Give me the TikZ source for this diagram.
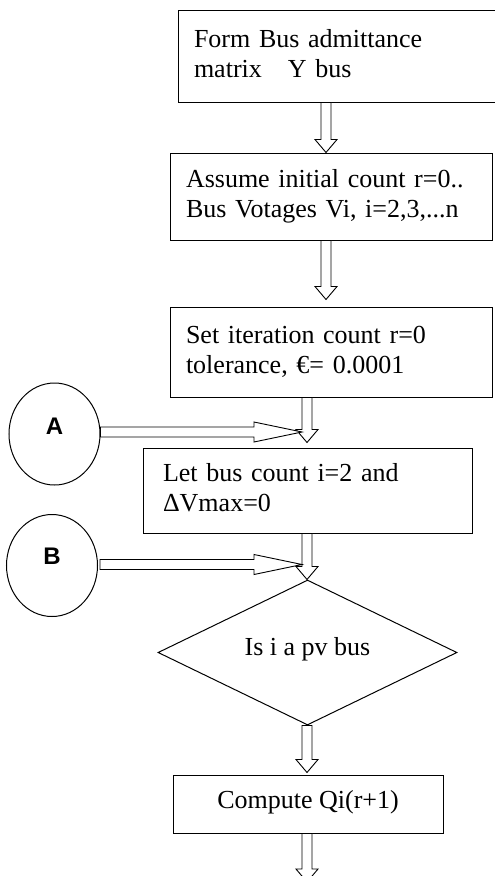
\documentclass[tikz,border=0pt]{standalone}
\usepackage{fontspec}
\setmainfont{Liberation Serif}
\newfontfamily\circfont{Liberation Sans}
\usetikzlibrary{shapes.geometric, calc}

\tikzset{
  box/.style={draw, line width=1pt, align=left, inner ysep=0pt},
  conn/.style={draw, line width=1pt, ellipse, minimum width=91pt, minimum height=102pt, inner sep=0pt},
  hollow down/.style={draw, fill=white, line width=0.9pt, to path={
    let \p1=(\tikztostart), \p2=(\tikztotarget) in
    (\x1-5pt,\y1) -- (\x1-5pt,\y2+13pt) -- (\x1-11pt,\y2+13pt) -- (\x1,\y2)
    -- (\x1+11pt,\y2+13pt) -- (\x1+5pt,\y2+13pt) -- (\x1+5pt,\y1) -- cycle}},
  hollow right/.style={draw, fill=white, line width=0.9pt, to path={
    let \p1=(\tikztostart), \p2=(\tikztotarget) in
    (\x1,\y1+5pt) -- (\x2-48pt,\y1+5pt) -- (\x2-48pt,\y1+10pt) -- (\x2,\y2)
    -- (\x2-48pt,\y1-10pt) -- (\x2-48pt,\y1-5pt) -- (\x1,\y1-5pt) -- cycle}}
}

\begin{document}
\begin{tikzpicture}[x=1pt, y=-1pt, font=\fontsize{26}{30}\selectfont]
    \useasboundingbox (0,0) rectangle (495,876);

    % The process boxes
    \node[box, text width=287pt, inner xsep=16pt, minimum height=92pt] (ybus) at (337.5,56)
        {\strut Form Bus admittance\\matrix\ \ \ Y bus\strut};
    \node[box, text width=290pt, inner xsep=16pt, minimum height=87pt] (init) at (331,196.5)
        {\strut Assume initial count r=0..\\Bus Votages Vi, i=2,3,...n\strut};
    \node[box, text width=290pt, inner xsep=16pt, minimum height=90pt] (iter) at (331,352)
        {\strut Set iteration count r=0\\tolerance, €= 0.0001\strut};
    \node[box, text width=289pt, inner xsep=20pt, minimum height=85pt] (count) at (307.5,490.5)
        {\strut Let bus count i=2 and\\ΔVmax=0\strut};

    % Decision
    \node[draw, line width=1pt, diamond, aspect=2, inner sep=0pt,
          minimum width=299pt, minimum height=145pt] (pv) at (307.5,652.5)
        {\raisebox{3pt}[\height][\depth]{Is i a pv bus}};

    \node[draw, line width=1pt, minimum width=270pt, minimum height=58pt] (qi) at (308,804)
        {\raisebox{2pt}[\height][\depth]{Compute Qi(r+1)}};

    % Connectors A and B
    \node[conn, label={[font=\circfont\bfseries\fontsize{24}{28}\selectfont, yshift=8pt]center:A}] (A) at (54.5,434) {};
    \node[conn, label={[font=\circfont\bfseries\fontsize{24}{28}\selectfont, yshift=9pt]center:B}] (B) at (52,565.5) {};

    % Arrows down the chart
    \coordinate (colA) at (326,0);
    \coordinate (colB) at (307,0);
    \coordinate (next) at (307,882);
    \draw[hollow down] (colA |- ybus.south) to (colA |- init.north);
    \draw[hollow down] (colA |- init.south) to ($(colA |- iter.north)+(0,-7)$);
    \draw[hollow down] (colB |- iter.south) to ($(colB |- count.north)+(0,-5)$);
    \draw[hollow down] (colB |- count.south) to (colB |- pv.north);
    \draw[hollow down] (colB |- pv.south) to ($(colB |- qi.north)+(0,-2)$);
    \draw[hollow down] (colB |- qi.south) to (next);

    % Joining A and B
    \coordinate (jA) at (302,432);
    \coordinate (jB) at (302,564.5);
    \draw[hollow right] (A.east |- jA) to (jA);
    \draw[hollow right] ($(B.east |- jB)+(2,0)$) to (jB);
\end{tikzpicture}
\end{document}
